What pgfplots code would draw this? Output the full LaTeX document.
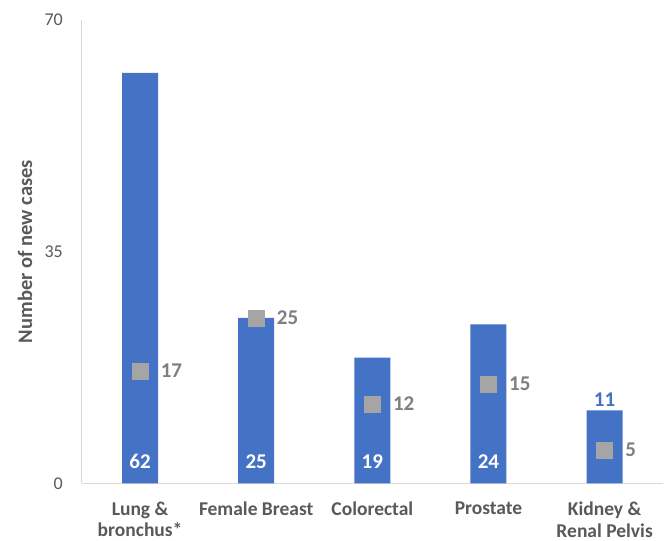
\documentclass[border=0pt]{standalone}
\usepackage{pgfplots}
\pgfplotsset{compat=1.18}
\usepackage{fontspec}
\setmainfont{Carlito}
\definecolor{barblue}{HTML}{4472C4}
\definecolor{markgrey}{HTML}{A5A5A5}
\definecolor{lblgrey}{HTML}{7F7F7F}
\definecolor{txtgrey}{HTML}{595959}
\definecolor{axgrey}{HTML}{D9D9D9}
\begin{document}
\begin{tikzpicture}
\useasboundingbox (-82pt,-57.7pt) rectangle (585pt,483.3pt);
\begin{axis}[
  at={(0pt,0pt)}, anchor=south west,
  scale only axis, width=580.7pt, height=463.3pt,
  xmin=-0.5, xmax=4.5, ymin=0, ymax=70,
  clip=false,
  axis lines*=left,
  axis line style={draw=axgrey, line width=1pt, -},
  every outer x axis line/.append style={-},
  every outer y axis line/.append style={-},
  major tick length=0pt,
  ytick={0,35,70},
  xtick={0,1,2,3,4},
  xticklabels={{Lung \&\\bronchus*},{Female Breast},{Colorectal},{Prostate},{Kidney \&\\Renal Pelvis}},
  xticklabel style={align=center, anchor=north, inner sep=0pt, yshift=-18.5pt,
    font=\bfseries\fontsize{19.5}{21.5}\selectfont, text=txtgrey},
  yticklabel style={anchor=east, inner sep=0pt, xshift=-19pt,
    font=\fontsize{18}{21}\selectfont, text=txtgrey},
  /pgf/number format/assume math mode=true,
  ylabel={Number of new cases},
  ylabel style={at={(axis description cs:-0.098,0.5)}, anchor=center,
    font=\bfseries\fontsize{20.5}{24}\selectfont, text=txtgrey},
]
\addplot[ybar, bar width=36pt, bar shift=0pt, fill=barblue, draw=none]
  coordinates {(0,62) (1,25) (2,19) (3,24) (4,11)};
\addplot[only marks, mark=square*, mark size=8pt, color=markgrey,
  point meta=explicit symbolic, nodes near coords,
  nodes near coords style={anchor=west, inner sep=0pt, xshift=20.5pt,
    text=lblgrey, font=\bfseries\fontsize{21}{24}\selectfont}]
  coordinates {(0,17)[17] (1,25)[25] (2,12)[12] (3,15)[15] (4,5)[5]};
\addplot[draw=none, no marks, point meta=explicit symbolic, nodes near coords,
  nodes near coords style={anchor=center, inner sep=0pt, yshift=21.8pt,
    text=white, font=\bfseries\fontsize{21}{24}\selectfont}]
  coordinates {(0,0)[62] (1,0)[25] (2,0)[19] (3,0)[24]};
\addplot[draw=none, no marks, point meta=explicit symbolic, nodes near coords,
  nodes near coords style={anchor=center, inner sep=0pt, yshift=11pt,
    text=barblue, font=\bfseries\fontsize{21}{24}\selectfont}]
  coordinates {(4,11)[11]};
\end{axis}
\end{tikzpicture}
\end{document}
